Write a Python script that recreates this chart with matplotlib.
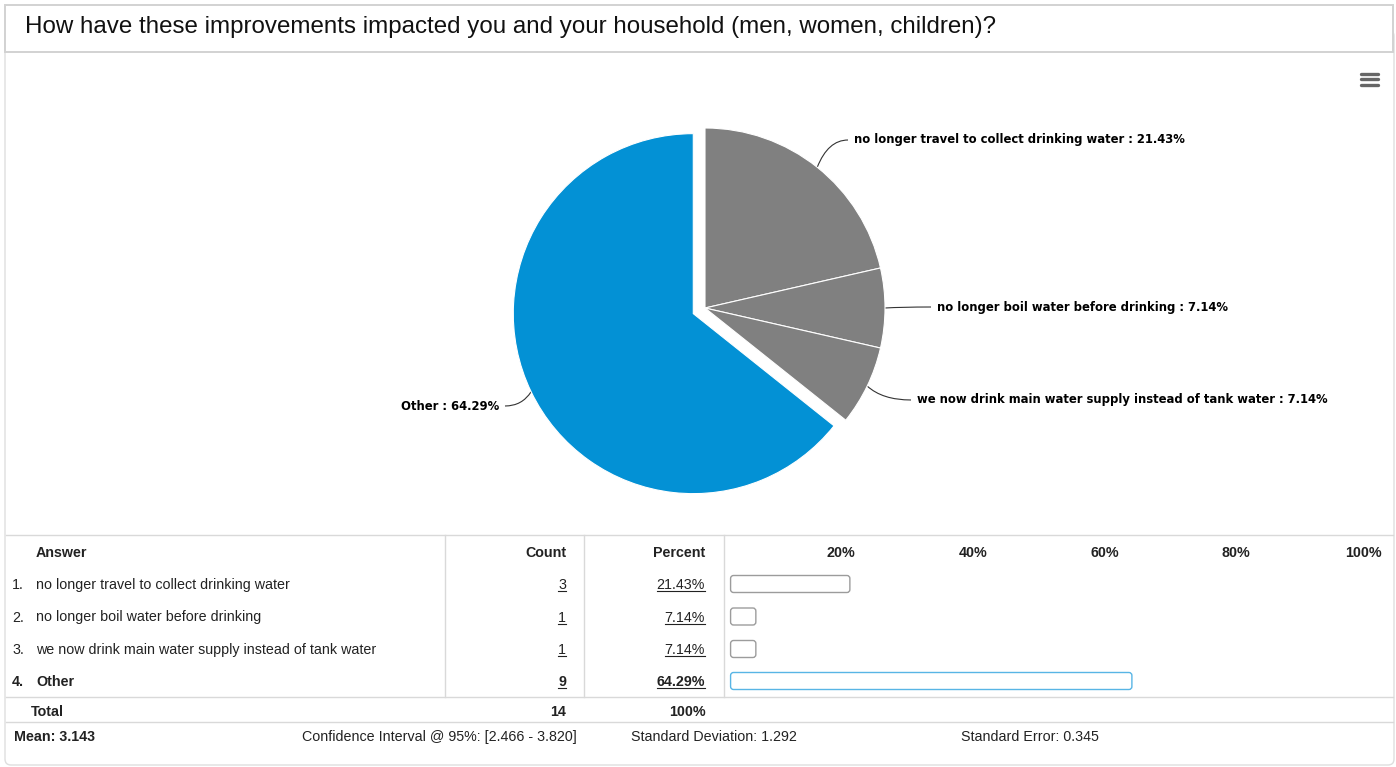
import numpy as np
import matplotlib
matplotlib.use("Agg")
import matplotlib.pyplot as plt
from matplotlib.patches import FancyBboxPatch, Rectangle, PathPatch
from matplotlib.path import Path

W, H = 1396, 767

# ---- data -------------------------------------------------------------
title = "How have these improvements impacted you and your household (men, women, children)?"
answers = [
    "no longer travel to collect drinking water",
    "no longer boil water before drinking",
    "we now drink main water supply instead of tank water",
    "Other",
]
counts = [3, 1, 1, 9]
percents = [21.43, 7.14, 7.14, 64.29]
total_count = 14
total_percent = 100
scale_ticks = [20, 40, 60, 80, 100]
mean_value = 3.143
ci_bounds = [2.466, 3.820]
std_deviation = 1.292
std_error = 0.345

# ---- styling ----------------------------------------------------------
slice_colors = ["#808080", "#808080", "#808080", "#0391d5"]
bar_edges = ["#9c9c9c", "#9c9c9c", "#9c9c9c", "#58b5e5"]
emphasis = [False, False, False, True]
line_col = "#d9d9d9"
text_col = "#222222"
table_font = "Liberation Sans"
table_size = 10.3

fig = plt.figure(figsize=(W / 100, H / 100), dpi=100)
fig.patch.set_facecolor("white")

# base layer in pixel coordinates (y downward)
ax = fig.add_axes([0, 0, 1, 1])
ax.set_xlim(0, W)
ax.set_ylim(H, 0)
ax.axis("off")

# outer frame and title box
ax.add_patch(FancyBboxPatch((5, 30), 1389, 735,
                            boxstyle="round,pad=0,rounding_size=6",
                            fc="white", ec="#dedede", lw=1.0, zorder=0))
ax.add_patch(Rectangle((5, 5), 1388, 47, fc="white", ec="#d2d2d2", lw=1.4, zorder=1))
ax.text(25, 27, title, va="center", ha="left", fontsize=17.4,
        family=table_font, color="#111111", zorder=2)

# menu icon
for yy in (73.5, 79, 84.5):
    ax.plot([1361, 1377.5], [yy, yy], color="#666666", lw=2.4,
            solid_capstyle="round", zorder=2)

# ---- pie --------------------------------------------------------------
pie_cx, pie_cy, pie_r = 705, 308, 180
explode_px = 13
pax = fig.add_axes([0, 0, 1, 1])
pax.patch.set_alpha(0)
wedges, _ = pax.pie(percents, colors=slice_colors, startangle=90, counterclock=False,
                    radius=pie_r, center=(pie_cx, H - pie_cy),
                    explode=[0, 0, 0, explode_px],
                    wedgeprops=dict(edgecolor="white", linewidth=0.8),
                    frame=False)
pax.set_xlim(0, W)
pax.set_ylim(0, H)
pax.set_aspect("auto")
pax.axis("off")

# data labels with curved connectors
label_pos = [(854, 140, "left"), (937, 307, "left"), (917, 400, "left"), (499, 406, "right")]
for w, name, pct, (lx, ly, ha) in zip(wedges, answers, percents, label_pos):
    tm = np.deg2rad(0.5 * (w.theta1 + w.theta2))
    cx, cy = w.center
    axp = cx + w.r * np.cos(tm)
    ayp = H - (cy + w.r * np.sin(tm))
    ex = lx - 6 if ha == "left" else lx + 6
    ctrl = (axp + 0.35 * (ex - axp), ly)
    path = Path([(axp, ayp), ctrl, (ex, ly)], [Path.MOVETO, Path.CURVE3, Path.CURVE3])
    ax.add_patch(PathPatch(path, fc="none", ec="#333333", lw=0.8, zorder=3))
    ax.text(lx, ly, f"{name} : {pct:.2f}%", ha=ha, va="center", fontsize=8.4,
            fontweight="bold", family="DejaVu Sans", color="#000000", zorder=3)

# ---- table ------------------------------------------------------------
for yy in (535, 697, 722):
    ax.plot([6, 1393], [yy, yy], color=line_col, lw=1.0, zorder=1)
for xx in (445, 584, 724):
    ax.plot([xx, xx], [535, 697], color=line_col, lw=1.0, zorder=1)

def ttext(x, y, s, ha="left", bold=False, **kw):
    return ax.text(x, y, s, ha=ha, va="baseline", fontsize=table_size, family=table_font,
                   fontweight="bold" if bold else "normal", color=text_col, zorder=3, **kw)

head_base = 557
ttext(36, head_base, "Answer", bold=True)
ttext(566, head_base, "Count", ha="right", bold=True)
ttext(705, head_base, "Percent", ha="right", bold=True)

underlined = []
row_centers = [584, 616.5, 649, 681]
for i, (name, c, p, yc) in enumerate(zip(answers, counts, percents, row_centers)):
    b = yc + 5
    bold = emphasis[i]
    ttext(12, b, f"{i + 1}.", bold=bold)
    ttext(36, b, name, bold=bold)
    underlined.append((ttext(566, b, f"{c}", ha="right", bold=bold), b))
    underlined.append((ttext(705, b, f"{p:.2f}%", ha="right", bold=bold), b))

tot_base = 716
ttext(31, tot_base, "Total", bold=True)
ttext(566, tot_base, f"{total_count}", ha="right", bold=True)
ttext(706, tot_base, f"{total_percent}%", ha="right", bold=True)

foot_base = 741
ttext(14, foot_base, f"Mean: {mean_value:.3f}", bold=True)
ttext(302, foot_base, f"Confidence Interval @ 95%: [{ci_bounds[0]:.3f} - {ci_bounds[1]:.3f}]")
ttext(631, foot_base, f"Standard Deviation: {std_deviation:.3f}")
ttext(961, foot_base, f"Standard Error: {std_error:.3f}")

# percentage scale column
bax = fig.add_axes([724 / W, 0, (1382 - 724) / W, 1])
bax.set_xlim(0, 100)
bax.set_ylim(H, 0)
bax.axis("off")
bax.patch.set_alpha(0)
for t in scale_ticks:
    bax.text(t, head_base, f"{t}%", ha="right", va="baseline", fontsize=table_size,
             family=table_font, fontweight="bold", color=text_col)
px_per_unit = (1382 - 724) / 100.0
bar_h = 17
inset_l, inset_r = 1.0, 2.3
for p, yc, ec in zip(percents, row_centers, bar_edges):
    bax.add_patch(FancyBboxPatch((inset_l, yc - bar_h / 2), p - inset_l - inset_r, bar_h,
                                 boxstyle=f"round,pad=0,rounding_size={3 / px_per_unit:.3f}",
                                 mutation_aspect=px_per_unit,
                                 fc="white", ec=ec, lw=1.0))

# underline linked values
fig.canvas.draw()
renderer = fig.canvas.get_renderer()
for t, b in underlined:
    bb = t.get_window_extent(renderer)
    ax.plot([bb.x0, bb.x1], [b + 2, b + 2], color=text_col, lw=0.8, zorder=3)

fig.savefig("out.png", dpi=100, facecolor="white")
